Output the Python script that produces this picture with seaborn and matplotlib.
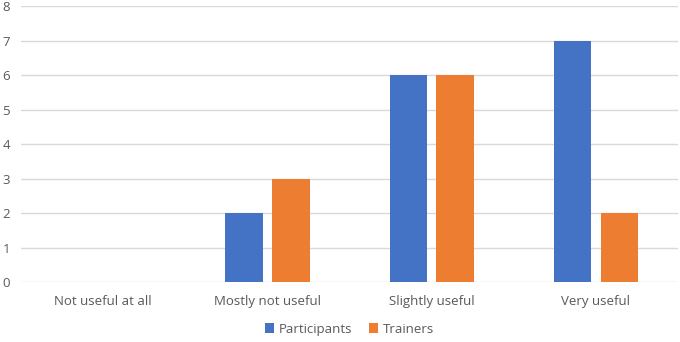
import pandas as pd
import matplotlib
matplotlib.use("Agg")
import matplotlib.pyplot as plt
import seaborn as sns

sns.set_style("white")
plt.rcParams['font.family'] = ['Open Sans', 'DejaVu Sans']

# Data
categories = ["Not useful at all", "Mostly not useful", "Slightly useful", "Very useful"]
participants = [0, 2, 6, 7]
trainers = [0, 3, 6, 2]

df = pd.DataFrame({
    "category": categories * 2,
    "value": participants + trainers,
    "group": ["Participants"] * len(categories) + ["Trainers"] * len(categories),
})

fig = plt.figure(figsize=(6.8, 3.42), dpi=100)
ax = fig.add_axes([0.031, 0.175, 0.966, 0.807])

sns.barplot(data=df, x="category", y="value", hue="group",
            palette=["#4472C4", "#ED7D31"], saturation=1, linewidth=0,
            width=0.57, gap=0.2, order=categories, ax=ax, zorder=3)

ax.set_ylim(0, 8)
ax.set_yticks(range(0, 9))
ax.set_xlim(-0.5, 3.5)
ax.grid(axis="y", color="#d9d9d9", linewidth=1, zorder=0)
ax.set_axisbelow(True)
for s in ax.spines.values():
    s.set_visible(False)
ax.set_xlabel("")
ax.set_ylabel("")
ax.tick_params(axis="both", length=0, labelsize=9.5, colors="#595959")
ax.tick_params(axis="x", pad=9)
ax.tick_params(axis="y", pad=8)

leg = ax.legend(loc="center", bbox_to_anchor=(0.5, -0.17), ncol=2,
                frameon=False, fontsize=9.5, handlelength=0.7, handleheight=0.7,
                handletextpad=0.4, columnspacing=1.2)
for t in leg.get_texts():
    t.set_color("#595959")

fig.savefig("out.png", dpi=100)
